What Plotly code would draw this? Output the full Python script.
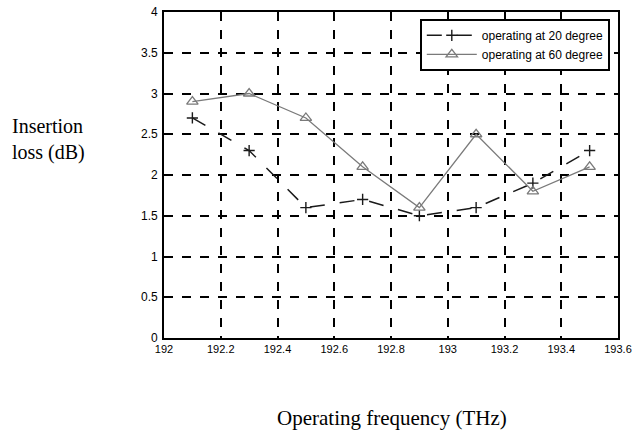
import plotly.graph_objects as go

freq = [192.1, 192.3, 192.5, 192.7, 192.9, 193.1, 193.3, 193.5]
loss_20 = [2.7, 2.3, 1.6, 1.7, 1.5, 1.6, 1.9, 2.3]
loss_60 = [2.9, 3.0, 2.7, 2.1, 1.6, 2.5, 1.8, 2.1]
x_ticks = [192, 192.2, 192.4, 192.6, 192.8, 193, 193.2, 193.4, 193.6]
x_ticktext = ["192", "192.2", "192.4", "192.6", "192.8", "193", "193.2", "193.4", "193.6"]
y_ticks = [0, 0.5, 1, 1.5, 2, 2.5, 3, 3.5, 4]
y_ticktext = ["0", "0.5", "1", "1.5", "2", "2.5", "3", "3.5", "4"]

W, H = 633, 435
ML, MR, MT, MB = 164, 15, 12, 97
pw = W - ML - MR
ph = H - MT - MB

fig = go.Figure()
fig.add_trace(go.Scatter(
    x=freq, y=loss_20, mode="lines+markers", name="operating at 20 degree",
    line=dict(color="#1a1a1a", width=1.5, dash="longdash"),
    marker=dict(symbol="cross-thin", size=8, line=dict(color="#1a1a1a", width=1.4)),
))
fig.add_trace(go.Scatter(
    x=freq, y=loss_60, mode="lines+markers", name="operating at 60 degree",
    line=dict(color="#7a7a7a", width=1.3),
    marker=dict(symbol="triangle-up-open", size=10, color="#7a7a7a", line=dict(width=1.3)),
))

axis_common = dict(
    showline=True, linecolor="black", linewidth=1.8, mirror=True,
    showgrid=True, gridcolor="black", gridwidth=1.5, griddash="dash",
    zeroline=False, ticks="", automargin=False,
)
fig.update_xaxes(range=[192, 193.6], tickvals=x_ticks, ticktext=x_ticktext,
                 tickfont=dict(family="Arial", size=11, color="black"),
                 ticklabelstandoff=0, **axis_common)
fig.update_yaxes(range=[0, 4], tickvals=y_ticks, ticktext=y_ticktext,
                 tickfont=dict(family="Arial", size=12, color="black"),
                 ticklabelstandoff=2, **axis_common)

fig.update_layout(
    width=W, height=H,
    margin=dict(l=ML, r=MR, t=MT, b=MB, autoexpand=False),
    paper_bgcolor="white", plot_bgcolor="white",
    showlegend=True,
    legend=dict(
        x=(610 - ML) / pw, y=(H - MB - 19) / ph, xanchor="right", yanchor="top",
        bgcolor="white", bordercolor="black", borderwidth=1.8,
        font=dict(family="Arial", size=12, color="black"),
        tracegroupgap=0, itemwidth=50,
    ),
    annotations=[
        dict(text="Insertion<br>loss (dB)", x=(10 - ML) / pw, y=(H - MB - 139) / ph,
             xref="paper", yref="paper",
             showarrow=False, align="left", xanchor="left", yanchor="middle",
             font=dict(family="Liberation Serif", size=20, color="black")),
        dict(text="Operating frequency (THz)", x=(392 - ML) / pw, y=(H - MB - 418) / ph,
             xref="paper", yref="paper",
             showarrow=False, xanchor="center", yanchor="middle",
             font=dict(family="Liberation Serif", size=21, color="black")),
    ],
)

fig.write_html(
    "out.html",
    config={"displayModeBar": False},
    post_script="document.body.style.margin='0';document.body.style.overflow='hidden';",
)
